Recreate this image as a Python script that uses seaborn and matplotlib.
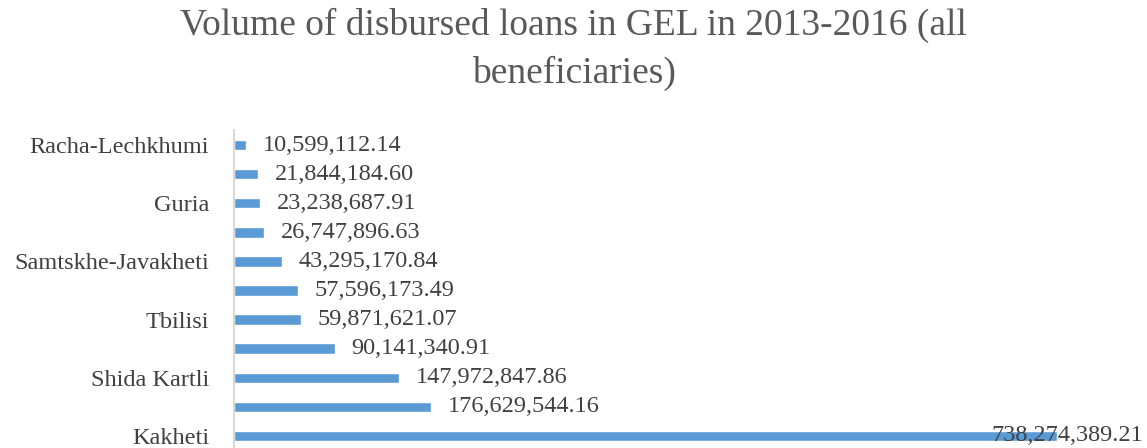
import matplotlib
matplotlib.use("Agg")
import matplotlib.pyplot as plt
import seaborn as sns
import pandas as pd

# Loan volumes by region, GEL, 2013-2016 (top to bottom)
regions = [
    "Racha-Lechkhumi", "Mtskheta-Mtianeti", "Guria", "Adjara",
    "Samtskhe-Javakheti", "Kvemo Kartli", "Tbilisi",
    "Samegrelo-Zemo Svaneti", "Shida Kartli", "Imereti", "Kakheti",
]
volumes = [
    10599112.14, 21844184.60, 23238687.91, 26747896.63,
    43295170.84, 57596173.49, 59871621.07,
    90141340.91, 147972847.86, 176629544.16, 738274389.21,
]
title_lines = ["Volume of disbursed loans in GEL in 2013-2016 (all", "beneficiaries)"]

df = pd.DataFrame({"region": regions, "volume": volumes})

sns.set_theme(style="white")
plt.rcParams["font.family"] = ["Liberation Serif", "DejaVu Serif"]

W, H = 1147, 448
fig = plt.figure(figsize=(W / 100, H / 100), dpi=100)
ax = fig.add_axes([234 / W, -2.5 / H, (1143 - 234) / W, 320 / H])

sns.barplot(data=df, x="volume", y="region", order=regions, orient="h",
            color="#5b9bd5", saturation=1, width=0.36, ax=ax)

ax.set_xlim(0, 815e6)
ax.set_ylim(len(regions) - 0.5, -0.5)
ax.set_xlabel("")
ax.set_ylabel("")
ax.set_xticks([])

# every other category label is shown
ax.set_yticks(range(0, len(regions), 2))
ax.set_yticklabels(regions[::2], fontsize=17.5, color="#404040")
ax.tick_params(axis="y", length=0, pad=18)

for side in ["top", "right", "bottom"]:
    ax.spines[side].set_visible(False)
ax.spines["left"].set_color("#d9d9d9")
ax.spines["left"].set_linewidth(1.5)

vmax = max(volumes)
for i, v in enumerate(volumes):
    txt = f"{v:,.2f}"
    if v == vmax:
        ax.text(1.0, i, txt, transform=ax.get_yaxis_transform(),
                ha="right", va="center", fontsize=17.5, color="#404040")
    else:
        ax.annotate(txt, xy=(v, i), xytext=(12, 0), textcoords="offset points",
                    ha="left", va="center", fontsize=17.5, color="#404040")

fig.text(0.5, 1 - 35 / H, title_lines[0], ha="center", va="baseline",
         fontsize=27, color="#595959")
fig.text(0.5, 1 - 83 / H, title_lines[1], ha="center", va="baseline",
         fontsize=27, color="#595959")

fig.savefig("out.png", dpi=100)
